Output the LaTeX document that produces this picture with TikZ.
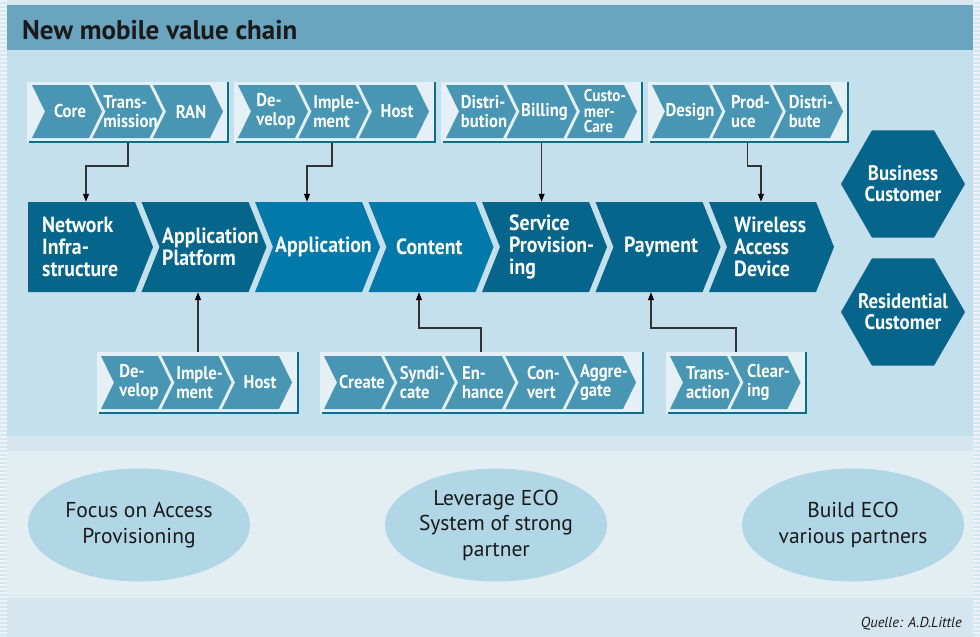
\documentclass[tikz,border=0pt]{standalone}
\usepackage{fontspec}
\setmainfont{PT Sans}
\newfontfamily\labfont{PT Sans}[FakeStretch=0.9]
\usetikzlibrary{shapes.geometric,arrows.meta,fit}
\definecolor{outerbg}{HTML}{D6E7EF}
\definecolor{titlebar}{HTML}{6AA4BE}
\definecolor{mainbg}{HTML}{C3E0EC}
\definecolor{bandbg}{HTML}{D5E6EE}
\definecolor{lowbg}{HTML}{E3EEF3}
\definecolor{darkchev}{HTML}{05658A}
\definecolor{lightchev}{HTML}{0179AA}
\definecolor{subfill}{HTML}{4896B3}
\definecolor{grpfill}{HTML}{E4F0F5}
\definecolor{grpline}{HTML}{0B6E8F}
\definecolor{ellfill}{HTML}{B1D6E6}
\definecolor{arrcol}{HTML}{333333}
\definecolor{txtdark}{HTML}{1A1A1A}
\tikzset{
  subtext/.style={text=white, font=\labfont\bfseries\fontsize{18.5}{18.5}\selectfont, align=left, inner sep=0},
  chaintext/.style={text=white, font=\labfont\bfseries\fontsize{22}{21.7}\selectfont, align=left, inner sep=0},
  hexnode/.style={regular polygon, regular polygon sides=6, minimum size=124pt, inner sep=0, fill=darkchev},
  hextext/.style={text=white, align=center, inner sep=0, font=\labfont\bfseries\fontsize{21}{20.7}\selectfont},
  ellnode/.style={ellipse, minimum width=222pt, minimum height=113pt, inner sep=0, fill=ellfill, text=txtdark, align=center, font=\fontsize{21.5}{25.5}\selectfont},
  arr/.style={draw=arrcol, line width=1.1pt, -{Triangle[length=8pt,width=6pt,color=black]}},
  grpshadow/.style={draw=grpline, line width=2pt},
}
\newcommand\sch[4]{%
  \fill[subfill] (#2,#3) -- ++(57,0) -- ++(13,26.5) -- ++(-13,26.5) -- ++(-57,0) -- ++(13,-26.5) -- cycle;
  \node[subtext] (#1) at (#2+38,#3+26.5) {#4};}
\newcommand\chn[6]{%
  \fill[#3] (#2,202) -- ++(107,0) -- ++(18,45) -- ++(-18,45) -- ++(-107,0) -- ++(#6,-45) -- cycle;
  \node[inner sep=0, minimum width=107pt, minimum height=90pt] (#1) at (#2+53.5,247) {};
  \node[chaintext, anchor=west] (#1t) at (#4,247) {#5};}
\newcommand\grp[5]{%
  \node[fit={(#2,#3) (#4,#5)}, inner sep=0, fill=grpfill] (#1) {};
  \draw[grpshadow] ([xshift=2pt,yshift=1pt]#1.south west) -- ([xshift=-1pt,yshift=1pt]#1.south east) -- ([xshift=-1pt]#1.north east);}
\begin{document}
\begin{tikzpicture}[x=1pt,y=-1pt]
\useasboundingbox (0,0) rectangle (980,637);
% backgrounds
\fill[outerbg] (0,0) rectangle (980,637);
\foreach \yy in {1,5,...,637} {
  \draw[white, opacity=0.5, line width=1.2pt] (0,\yy) -- (7,\yy);
  \draw[white, opacity=0.5, line width=1.2pt] (973,\yy) -- (980,\yy);
}
\fill[titlebar] (7,5) rectangle (973,50);
\fill[mainbg] (7,50) rectangle (973,436);
\fill[bandbg] (7,436) rectangle (973,451);
\fill[lowbg] (7,451) rectangle (973,598);
\fill[bandbg] (7,598) rectangle (973,637);
\node[anchor=base west, inner sep=0, text=txtdark, font=\bfseries\fontsize{27}{30}\selectfont] (title) at (22,39.5) {New mobile value chain};
% top groups
\grp{g1}{27}{82}{229}{143}
\sch{ga}{32}{85}{Core}
\sch{gb}{92.5}{85}{Trans-\\mission}
\sch{gc}{153}{85}{RAN}
\grp{g2}{234}{82}{436}{143}
\sch{gd}{238}{85}{De-\\velop}
\sch{ge}{298.5}{85}{Imple-\\ment}
\sch{gf}{359}{85}{Host}
\grp{g3}{441}{82}{643}{143}
\sch{gg}{446}{85}{Distri-\\bution}
\sch{gh}{506.5}{85}{Billing}
\fill[subfill] (567,85) -- ++(57,0) -- ++(13,26.5) -- ++(-13,26.5) -- ++(-57,0) -- ++(13,-26.5) -- cycle;
\node[subtext, font=\labfont\bfseries\fontsize{17}{15.5}\selectfont] (gi) at (605,111.5) {Custo-\\mer-\\Care};
\grp{g4}{648}{82}{849}{143}
\sch{gj}{652}{85}{Design}
\sch{gk}{712.5}{85}{Prod-\\uce}
\sch{gl}{773}{85}{Distri-\\bute}
% chain
\chn{n1}{28}{darkchev}{42}{Network\\Infra-\\structure}{0}
\chn{n2}{141.5}{darkchev}{162}{Application\\Platform}{18}
\chn{n3}{255}{lightchev}{275}{Application}{18}
\chn{n4}{368.5}{lightchev}{396}{Content}{18}
\chn{n5}{482}{darkchev}{509}{Service\\Provision-\\ing}{18}
\chn{n6}{595.5}{darkchev}{624}{Payment}{18}
\chn{n7}{709}{darkchev}{734}{Wireless\\Access\\Device}{18}
% bottom groups
\grp{h1}{97}{352}{299}{414}
\sch{ha}{101}{356}{De-\\velop}
\sch{hb}{161.5}{356}{Imple-\\ment}
\sch{hc}{222}{356}{Host}
\grp{h2}{320}{352}{644}{414}
\sch{hd}{324}{356}{Create}
\sch{he}{384.5}{356}{Syndi-\\cate}
\sch{hf}{445}{356}{En-\\hance}
\sch{hg}{505.5}{356}{Con-\\vert}
\sch{hh}{566}{356}{Aggre-\\gate}
\grp{h3}{666}{352}{807}{414}
\sch{hi}{670}{356}{Trans-\\action}
\sch{hj}{730.5}{356}{Clear-\\ing}
% customers
\node[hexnode] (bc) at (903,184) {};
\node[hextext] (bct) at (bc.center) {Business\\Customer};
\node[hexnode] (rc) at (903,312) {};
\node[hextext] (rct) at (rc.center) {Residential\\Customer};
% ellipses
\node[ellnode] (e1) at (139,525) {Focus on Access\\Provisioning};
\node[ellnode] (e2) at (496,525) {Leverage ECO\\System of strong\\partner};
\node[ellnode] (e3) at (853,525) {Build ECO\\various partners};
\node[anchor=base east, inner sep=0, text=txtdark, font=\itshape\fontsize{14.5}{16}\selectfont] (src) at (962,627) {Quelle: A.D.Little};
% arrows
\coordinate (k1a) at (128,166); \coordinate (k1b) at (86,166);
\draw[arr] (g1.south -| k1a) -- (k1a) -- (k1b) -- (k1b |- n1.north);
\coordinate (k2a) at (332,166); \coordinate (k2b) at (307,166);
\draw[arr] (g2.south -| k2a) -- (k2a) -- (k2b) -- (k2b |- n3.north);
\coordinate (k3) at (541.6,166);
\draw[arr] (g3.south -| k3) -- (k3 |- n5.north);
\coordinate (k4a) at (747.5,166); \coordinate (k4b) at (761,166);
\draw[arr] (g4.south -| k4a) -- (k4a) -- (k4b) -- (k4b |- n7.north);
\coordinate (m1) at (198,328);
\draw[arr] (h1.north -| m1) -- (m1 |- n2.south);
\coordinate (m2a) at (481,328); \coordinate (m2b) at (419,328);
\draw[arr] (h2.north -| m2a) -- (m2a) -- (m2b) -- (m2b |- n4.south);
\coordinate (m3a) at (736,328); \coordinate (m3b) at (651,328);
\draw[arr] (h3.north -| m3a) -- (m3a) -- (m3b) -- (m3b |- n6.south);
\end{tikzpicture}
\end{document}
